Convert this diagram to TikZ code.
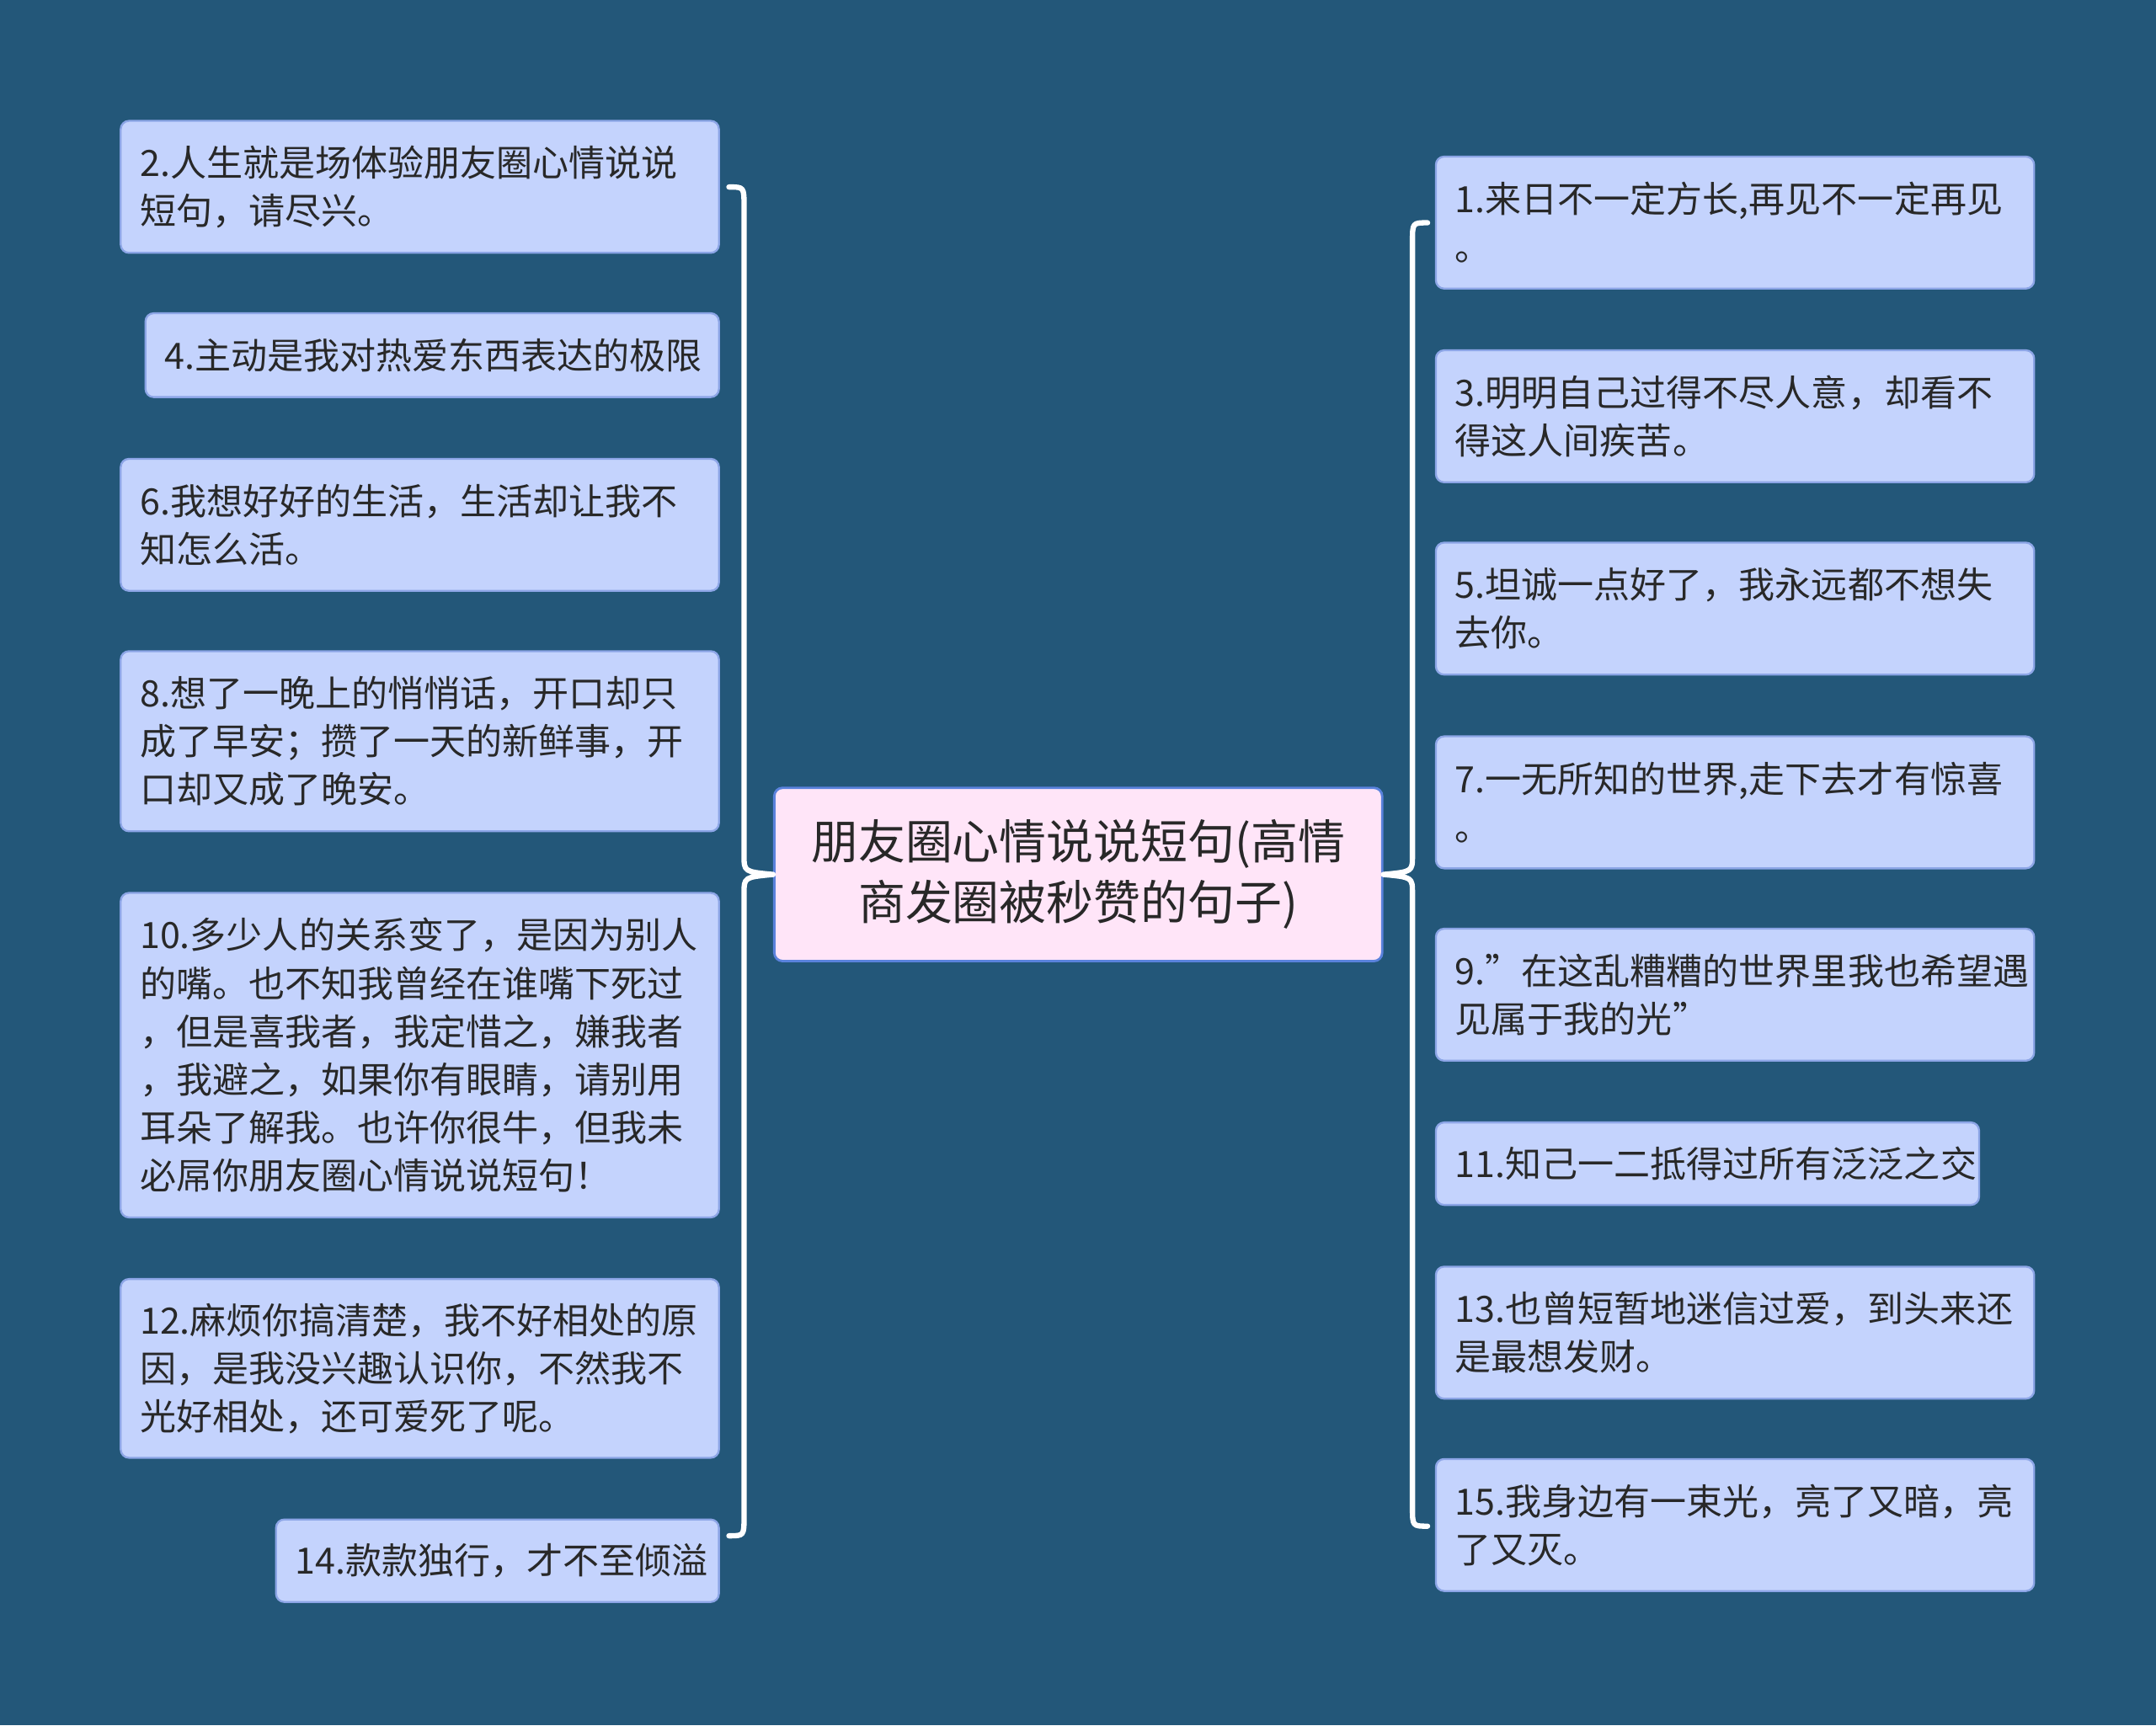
\documentclass[tikz,border=0pt]{standalone}
\usepackage{fontspec}
\setmainfont{Noto Sans CJK SC}
\definecolor{bg}{RGB}{35,87,121}
\definecolor{boxf}{RGB}{196,211,253}
\definecolor{boxd}{RGB}{140,165,230}
\definecolor{cenf}{RGB}{255,229,248}
\definecolor{cend}{RGB}{90,130,220}
\definecolor{txt}{RGB}{40,40,40}
\tikzset{
 leaf/.style={draw=boxd,line width=0.8pt,fill=boxf,rounded corners=0.12cm,inner sep=0pt,align=left,text=txt,font=\fontsize{15}{19.9}\selectfont},
 cen/.style={draw=cend,line width=1pt,fill=cenf,rounded corners=0.12cm,inner sep=0pt,align=center,text=txt,font=\fontsize{19.5}{25}\selectfont},
 brace/.style={draw=white,line width=2.2pt,line cap=round,line join=round}
}
\newcommand{\bx}[6]{%
 \node[leaf,minimum width={(#4-#2)*0.02cm},minimum height={(#5-#3)*0.02cm},text width={(#4-#2-28)*0.02cm}] (#1) at ({(#2+#4)*0.01},{-(#3+#5)*0.01}) {#6};}
\begin{document}
\begin{tikzpicture}
\fill[bg] (0,0) rectangle (31.36,-25.1);
\useasboundingbox (0,0) rectangle (31.36,-25.1);
\node[cen,minimum width={442*0.02cm},minimum height={126*0.02cm}] (c) at ({784*0.02},{-636*0.02}) {朋友圈心情说说短句(高情\\商发圈被秒赞的句子)};
\bx{l2}{88}{88}{523}{184}{2.人生就是场体验朋友圈心情说说\\短句，请尽兴。}
\bx{l4}{106}{228}{523}{289}{4.主动是我对热爱东西表达的极限}
\bx{l6}{88}{334}{523}{430}{6.我想好好的生活，生活却让我不\\知怎么活。}
\bx{l8}{88}{474}{523}{605}{8.想了一晚上的悄悄话，开口却只\\成了早安；攒了一天的新鲜事，开\\口却又成了晚安。}
\bx{l10}{88}{650}{523}{886}{10.多少人的关系变了，是因为别人\\的嘴。也不知我曾经在谁嘴下死过\\，但是喜我者，我定惜之，嫌我者\\，我避之，如果你有眼睛，请别用\\耳朵了解我。也许你很牛，但我未\\必屌你朋友圈心情说说短句！}
\bx{l12}{88}{931}{523}{1061}{12.麻烦你搞清楚，我不好相处的原\\因，是我没兴趣认识你，不然我不\\光好相处，还可爱死了呢。}
\bx{l14}{201}{1106}{523}{1166}{14.款款独行，才不至倾溢}
\bx{r1}{1045}{114}{1480}{210}{1.来日不一定方长,再见不一定再见\\。}
\bx{r3}{1045}{255}{1480}{351}{3.明明自己过得不尽人意，却看不\\得这人间疾苦。}
\bx{r5}{1045}{395}{1480}{491}{5.坦诚一点好了，我永远都不想失\\去你。}
\bx{r7}{1045}{536}{1480}{632}{7.一无所知的世界,走下去才有惊喜\\。}
\bx{r9}{1045}{676}{1480}{772}{9.\symbol{34}在这乱糟糟的世界里我也希望遇\\见属于我的光\symbol{34}}
\bx{r11}{1045}{817}{1440}{877}{11.知己一二抵得过所有泛泛之交}
\bx{r13}{1045}{922}{1480}{1018}{13.也曾短暂地迷信过爱，到头来还\\是最想发财。}
\bx{r15}{1045}{1062}{1480}{1158}{15.我身边有一束光，亮了又暗，亮\\了又灭。}
\coordinate (lt) at ({530*0.02},{-136*0.02});
\coordinate (lb) at ({530*0.02},{-1117*0.02});
\draw[brace] (lt) .. controls ({541*0.02},{-136*0.02}) .. ({541*0.02},{-150*0.02}) -- ({541*0.02},{-622*0.02}) .. controls ({541*0.02},{-634*0.02}) .. (c.west) .. controls ({541*0.02},{-638*0.02}) .. ({541*0.02},{-650*0.02}) -- ({541*0.02},{-1103*0.02}) .. controls ({541*0.02},{-1117*0.02}) .. (lb);
\coordinate (rt) at ({1038*0.02},{-162*0.02});
\coordinate (rb) at ({1038*0.02},{-1110*0.02});
\draw[brace] (rt) .. controls ({1027*0.02},{-162*0.02}) .. ({1027*0.02},{-176*0.02}) -- ({1027*0.02},{-622*0.02}) .. controls ({1027*0.02},{-634*0.02}) .. (c.east) .. controls ({1027*0.02},{-638*0.02}) .. ({1027*0.02},{-650*0.02}) -- ({1027*0.02},{-1096*0.02}) .. controls ({1027*0.02},{-1110*0.02}) .. (rb);
\end{tikzpicture}
\end{document}
